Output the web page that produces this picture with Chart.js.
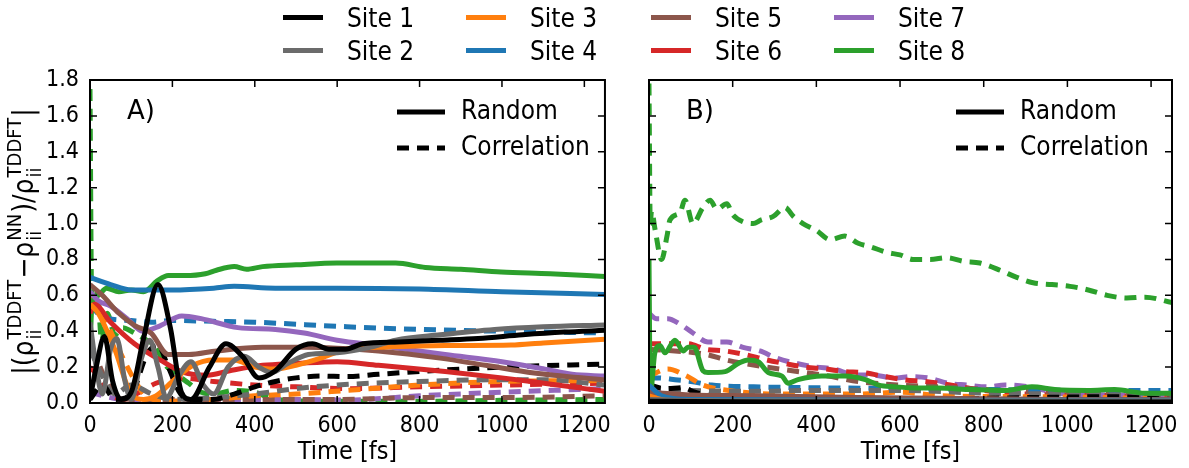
<!DOCTYPE html>
<html>
<head>
<meta charset="utf-8">
<script src="https://cdn.jsdelivr.net/npm/chart.js@4.4.0/dist/chart.umd.min.js"></script>
<style>
  body { margin: 0; background: #fff; }
  #page { position: relative; width: 1189px; height: 468px; overflow: hidden; font-family: "Liberation Sans Narrow", "DejaVu Sans Condensed", "Liberation Sans", sans-serif; }
  #wrapA { position: absolute; left: 0; top: 0; }
  #wrapB { position: absolute; left: 620px; top: 0; }
  #legend { position: absolute; left: 0; top: 0; width: 1189px; height: 70px; }
  .item { position: absolute; height: 30px; line-height: 30px; font-size: 26px; color: #000; white-space: nowrap; }
  .item span.swatch { position: absolute; left: 0; top: 12px; width: 40px; height: 5px; }
  .item span.txt { position: absolute; left: 64px; top: 0; }
</style>
</head>
<body>
<div id="page">
  <div id="wrapA"><canvas id="chartA" width="620" height="468"></canvas></div>
  <div id="wrapB"><canvas id="chartB" width="569" height="468"></canvas></div>
  <div id="legend"></div>
</div>
<script>
var FONT = '"Liberation Sans Narrow", "DejaVu Sans Condensed", "Liberation Sans", sans-serif';

var siteLabels = ['Site 1', 'Site 2', 'Site 3', 'Site 4', 'Site 5', 'Site 6', 'Site 7', 'Site 8'];
var siteColors = ['#000000', '#6b6b6b', '#ff7f0e', '#1f77b4', '#8c564b', '#d62728', '#9467bd', '#2ca02c'];
var xTicks = [0, 200, 400, 600, 800, 1000, 1200];
var yTicks = [0, 0.2, 0.4, 0.6, 0.8, 1.0, 1.2, 1.4, 1.6, 1.8];

// panel A, random (solid)  [time fs, value]
var aRand1 = [[0,0.02],[15,0.2],[35,0.37],[55,0.12],[75,0.02],[100,0.06],[130,0.36],[165,0.66],[195,0.42],[222,0.06],[245,0.02],[290,0.2],[330,0.33],[370,0.26],[410,0.14],[450,0.18],[500,0.3],[540,0.33],[580,0.3],[620,0.3],[662,0.33],[750,0.34],[850,0.35],[942,0.36],[1050,0.38],[1150,0.395],[1250,0.405]];
var aRand2 = [[0,0.45],[15,0.2],[30,0.05],[50,0.3],[65,0.36],[85,0.12],[100,0.02],[125,0.25],[145,0.35],[165,0.2],[185,0.03],[215,0.15],[245,0.23],[275,0.1],[300,0.05],[335,0.2],[375,0.26],[410,0.2],[440,0.17],[480,0.22],[530,0.27],[600,0.28],[680,0.31],[742,0.35],[850,0.38],[982,0.41],[1100,0.425],[1250,0.435]];
var aRand3 = [[0,0.55],[20,0.5],[60,0.3],[100,0.05],[130,0.02],[160,0.04],[200,0.12],[250,0.21],[300,0.24],[350,0.24],[400,0.2],[450,0.19],[500,0.21],[560,0.25],[623,0.3],[700,0.31],[862,0.32],[1022,0.323],[1100,0.335],[1250,0.355]];
var aRand4 = [[0,0.7],[50,0.66],[100,0.63],[150,0.63],[200,0.63],[300,0.64],[350,0.65],[450,0.64],[600,0.64],[800,0.635],[1000,0.62],[1250,0.605]];
var aRand5 = [[0,0.66],[30,0.6],[70,0.5],[110,0.43],[148,0.39],[190,0.27],[240,0.27],[307,0.29],[419,0.31],[520,0.31],[600,0.305],[700,0.29],[850,0.25],[960,0.21],[1078,0.167],[1250,0.128]];
var aRand6 = [[0,0.5],[10,0.55],[50,0.45],[108,0.33],[170,0.24],[227,0.17],[285,0.155],[339,0.18],[419,0.21],[500,0.22],[600,0.23],[700,0.21],[862,0.175],[1000,0.14],[1102,0.11],[1250,0.065]];
var aRand7 = [[0,0.62],[20,0.57],[50,0.54],[90,0.47],[128,0.4],[170,0.43],[223,0.485],[270,0.47],[359,0.42],[450,0.41],[520,0.39],[600,0.35],[700,0.32],[862,0.27],[1000,0.23],[1102,0.19],[1170,0.16],[1250,0.15]];
var aRand8 = [[0,0.3],[5,0.55],[20,0.6],[40,0.64],[70,0.62],[100,0.63],[130,0.62],[163,0.68],[190,0.71],[230,0.71],[280,0.72],[307,0.74],[350,0.76],[380,0.745],[419,0.76],[500,0.77],[599,0.78],[742,0.78],[814,0.755],[900,0.745],[998,0.73],[1117,0.72],[1250,0.705]];

// panel A, correlation (dashed)
var aCorr1 = [[0,0.02],[30,0.1],[60,0.02],[100,0.05],[140,0.28],[165,0.32],[190,0.2],[220,0.05],[250,0.02],[300,0.02],[350,0.05],[400,0.09],[450,0.12],[500,0.14],[560,0.15],[623,0.147],[700,0.16],[862,0.184],[1000,0.2],[1250,0.217]];
var aCorr2 = [[0,0.3],[30,0.15],[60,0.05],[100,0.1],[150,0.05],[200,0.02],[300,0.03],[400,0.05],[500,0.08],[600,0.1],[800,0.12],[1000,0.13],[1100,0.13],[1250,0.1]];
var aCorr3 = [[0,0.6],[20,0.55],[50,0.4],[80,0.25],[110,0.12],[140,0.03],[200,0.01],[300,0.02],[400,0.04],[500,0.05],[623,0.07],[800,0.1],[1000,0.12],[1250,0.125]];
var aCorr4 = [[0,0.55],[30,0.48],[100,0.46],[150,0.45],[200,0.46],[300,0.455],[400,0.45],[623,0.425],[800,0.41],[1000,0.4],[1250,0.39]];
var aCorr5 = [[0,0.3],[15,0.25],[40,0.12],[70,0.04],[100,0.02],[200,0.02],[400,0.02],[600,0.02],[800,0.03],[1000,0.03],[1250,0.04]];
var aCorr6 = [[0,0.2],[20,0.15],[50,0.05],[80,0.02],[120,0.06],[160,0.11],[220,0.14],[300,0.12],[400,0.1],[500,0.09],[623,0.08],[800,0.09],[1000,0.1],[1250,0.11]];
var aCorr7 = [[0,0.06],[50,0.03],[100,0.01],[200,0.01],[300,0.02],[400,0.02],[500,0.02],[623,0.017],[800,0.04],[1000,0.06],[1250,0.08]];
var aCorr8 = [[0,1.75],[4,0.6],[10,0.55],[18,0.62],[28,0.35],[42,0.5],[60,0.38],[80,0.42],[100,0.4],[130,0.36],[160,0.31],[180,0.22],[210,0.16],[240,0.11],[270,0.06],[300,0.05],[350,0.07],[400,0.06],[450,0.02],[600,0.01],[800,0.01],[1000,0.015],[1250,0.02]];

// panel B, random (solid)
var bRand1 = [[0,0.01],[300,0.005],[700,0.005],[1250,0.005]];
var bRand2 = [[0,0.02],[200,0.01],[600,0.01],[1250,0.01]];
var bRand3 = [[0,0.04],[40,0.015],[200,0.01],[700,0.01],[1250,0.01]];
var bRand4 = [[0,0.1],[30,0.04],[100,0.02],[600,0.015],[1250,0.015]];
var bRand5 = [[0,0.06],[100,0.045],[250,0.04],[500,0.03],[1000,0.02],[1250,0.02]];
var bRand6 = [[0,0.03],[200,0.02],[600,0.015],[800,0.02],[1000,0.01],[1250,0.015]];
var bRand7 = [[0,0.07],[60,0.04],[150,0.02],[400,0.015],[800,0.02],[1000,0.015],[1250,0.02]];
var bRand8 = [[0,0.8],[3,0.05],[14,0.28],[26,0.32],[38,0.28],[62,0.35],[82,0.29],[93,0.31],[108,0.31],[129,0.18],[141,0.17],[182,0.175],[213,0.22],[237,0.24],[261,0.23],[285,0.17],[318,0.15],[332,0.11],[356,0.13],[413,0.15],[469,0.15],[517,0.13],[549,0.1],[589,0.09],[620,0.085],[691,0.083],[771,0.075],[851,0.07],[915,0.09],[970,0.075],[1050,0.07],[1113,0.075],[1185,0.055],[1250,0.055]];

// panel B, correlation (dashed)
var bCorr1 = [[0,0.1],[40,0.08],[80,0.085],[110,0.06],[150,0.04],[300,0.02],[600,0.02],[900,0.03],[1100,0.035],[1250,0.02]];
var bCorr2 = [[0,0.08],[100,0.07],[250,0.065],[400,0.07],[600,0.07],[800,0.055],[1000,0.05],[1250,0.04]];
var bCorr3 = [[0,0.15],[45,0.19],[90,0.15],[129,0.1],[213,0.063],[300,0.05],[500,0.05],[600,0.06],[700,0.04],[900,0.035],[1100,0.03],[1250,0.02]];
var bCorr4 = [[0,0.14],[21,0.14],[69,0.128],[100,0.12],[150,0.1],[250,0.09],[400,0.085],[600,0.08],[800,0.075],[1042,0.07],[1250,0.07]];
var bCorr5 = [[0,0.3],[138,0.27],[184,0.24],[280,0.2],[325,0.185],[373,0.17],[429,0.15],[500,0.12],[600,0.1],[700,0.09],[850,0.07],[1000,0.055],[1250,0.04]];
var bCorr6 = [[0,0.33],[93,0.33],[134,0.3],[182,0.29],[230,0.27],[282,0.24],[325,0.22],[373,0.2],[421,0.19],[469,0.175],[509,0.17],[565,0.147],[612,0.128],[660,0.12],[720,0.1],[800,0.07],[900,0.05],[1000,0.045],[1250,0.035]];
var bCorr7 = [[0,0.5],[18,0.47],[45,0.47],[74,0.44],[105,0.39],[141,0.34],[186,0.34],[225,0.31],[265,0.29],[305,0.25],[353,0.22],[401,0.2],[440,0.19],[497,0.156],[528,0.156],[592,0.14],[624,0.147],[667,0.14],[715,0.11],[759,0.1],[807,0.09],[851,0.1],[908,0.09],[995,0.05],[1100,0.045],[1250,0.04]];
var bCorr8 = [[0,1.78],[3,1.0],[6,1.07],[15,0.96],[30,0.8],[43,0.93],[50,1.02],[74,1.06],[86,1.13],[105,1.0],[129,1.09],[146,1.13],[162,1.08],[186,1.11],[200,1.05],[225,1.01],[249,1.0],[268,1.02],[297,1.04],[325,1.09],[345,1.04],[368,1.0],[401,0.96],[433,0.91],[468,0.93],[500,0.89],[530,0.87],[568,0.84],[600,0.825],[631,0.8],[672,0.8],[712,0.81],[751,0.79],[791,0.78],[839,0.74],[879,0.7],[918,0.67],[963,0.66],[1006,0.65],[1050,0.63],[1095,0.6],[1142,0.585],[1185,0.59],[1250,0.56]];

var randomA = [aRand1, aRand2, aRand3, aRand4, aRand5, aRand6, aRand7, aRand8];
var corrA = [aCorr1, aCorr2, aCorr3, aCorr4, aCorr5, aCorr6, aCorr7, aCorr8];
var randomB = [bRand1, bRand2, bRand3, bRand4, bRand5, bRand6, bRand7, bRand8];
var corrB = [bCorr1, bCorr2, bCorr3, bCorr4, bCorr5, bCorr6, bCorr7, bCorr8];

// top legend, 4 columns x 2 rows, filled column by column
var legendCols = [283, 466, 651, 834];
var legendRows = [3, 36];
var legendEl = document.getElementById('legend');
siteLabels.forEach(function (name, i) {
  var div = document.createElement('div');
  div.className = 'item';
  div.style.left = legendCols[Math.floor(i / 2)] + 'px';
  div.style.top = legendRows[i % 2] + 'px';
  div.innerHTML = '<span class="swatch" style="background:' + siteColors[i] + '"></span><span class="txt">' + name + '</span>';
  legendEl.appendChild(div);
});

function buildDatasets(randomSets, corrSets) {
  var sets = [];
  randomSets.forEach(function (pts, i) {
    sets.push({
      label: siteLabels[i] + ' Random',
      data: pts.map(function (p) { return { x: p[0], y: p[1] }; }),
      borderColor: siteColors[i],
      borderWidth: 5,
      pointRadius: 0,
      cubicInterpolationMode: 'monotone',
      fill: false
    });
  });
  corrSets.forEach(function (pts, i) {
    sets.push({
      label: siteLabels[i] + ' Correlation',
      data: pts.map(function (p) { return { x: p[0], y: p[1] }; }),
      borderColor: siteColors[i],
      borderWidth: 5,
      borderDash: [12, 8],
      pointRadius: 0,
      cubicInterpolationMode: 'monotone',
      fill: false
    });
  });
  return sets;
}

// frame, inward ticks, panel letter and the Random / Correlation key
var decorPlugin = {
  id: 'decor',
  afterDraw: function (chart) {
    var ctx = chart.ctx;
    var a = chart.chartArea;
    var xs = chart.scales.x, ys = chart.scales.y;
    var opt = chart.options.plugins.decor;
    ctx.save();
    ctx.strokeStyle = '#000';
    ctx.lineWidth = 2;
    ctx.strokeRect(a.left, a.top, a.right - a.left, a.bottom - a.top);
    ctx.lineWidth = 1.5;
    ctx.beginPath();
    xTicks.forEach(function (t) {
      var px = xs.getPixelForValue(t);
      ctx.moveTo(px, a.bottom); ctx.lineTo(px, a.bottom - 7);
      ctx.moveTo(px, a.top); ctx.lineTo(px, a.top + 7);
    });
    yTicks.forEach(function (t) {
      var py = ys.getPixelForValue(t);
      ctx.moveTo(a.left, py); ctx.lineTo(a.left + 7, py);
      ctx.moveTo(a.right, py); ctx.lineTo(a.right - 7, py);
    });
    ctx.stroke();

    ctx.fillStyle = '#000';
    ctx.font = '26px "DejaVu Sans", sans-serif';
    ctx.textBaseline = 'middle';
    ctx.textAlign = 'left';
    ctx.fillText(opt.letter, a.left + 37, a.top + 32);

    ctx.lineWidth = 5;
    ctx.beginPath();
    ctx.moveTo(a.left + 307, a.top + 32); ctx.lineTo(a.left + 355, a.top + 32);
    ctx.stroke();
    ctx.setLineDash([12, 8]);
    ctx.beginPath();
    ctx.moveTo(a.left + 307, a.top + 68); ctx.lineTo(a.left + 355, a.top + 68);
    ctx.stroke();
    ctx.setLineDash([]);
    ctx.font = '26px ' + FONT;
    ctx.fillText('Random', a.left + 371, a.top + 32);
    ctx.fillText('Correlation', a.left + 371, a.top + 68);

    if (opt.yTitle) drawYTitle(ctx, 24, (a.top + a.bottom) / 2);
    ctx.restore();
  }
};

// |(rho_ii^TDDFT - rho_ii^NN) / rho_ii^TDDFT|, rotated
function drawYTitle(ctx, cx, cy) {
  var parts = [
    { text: '|(\u03c1', sub: 'ii', sup: 'TDDFT' },
    { text: '\u2212\u03c1', sub: 'ii', sup: 'NN' },
    { text: ')/\u03c1', sub: 'ii', sup: 'TDDFT' },
    { text: '|' }
  ];
  var main = '28px ' + FONT, small = '20px ' + FONT;
  var total = 0;
  parts.forEach(function (p) {
    ctx.font = main; p.w = ctx.measureText(p.text).width;
    ctx.font = small;
    p.sw = Math.max(p.sub ? ctx.measureText(p.sub).width : 0, p.sup ? ctx.measureText(p.sup).width : 0);
    total += p.w + p.sw + (p.sw ? 2 : 0);
  });
  ctx.save();
  ctx.translate(cx, cy);
  ctx.rotate(-Math.PI / 2);
  ctx.textBaseline = 'alphabetic';
  ctx.textAlign = 'left';
  var x = -total / 2;
  parts.forEach(function (p) {
    ctx.font = main;
    ctx.fillText(p.text, x, 9);
    x += p.w;
    ctx.font = small;
    if (p.sup) ctx.fillText(p.sup, x + 1, -3);
    if (p.sub) ctx.fillText(p.sub, x + 1, 17);
    x += p.sw + (p.sw ? 2 : 0);
  });
  ctx.restore();
}

function makePanel(canvasId, randomSets, corrSets, letter, showY, pad) {
  var ctx = document.getElementById(canvasId).getContext('2d');
  return new Chart(ctx, {
    type: 'line',
    data: { datasets: buildDatasets(randomSets, corrSets) },
    options: {
      responsive: false,
      animation: false,
      layout: { padding: pad },
      plugins: {
        legend: { display: false },
        tooltip: { enabled: false },
        decor: { letter: letter, yTitle: showY }
      },
      scales: {
        x: {
          type: 'linear',
          min: 0,
          max: 1250,
          grid: { display: false, drawTicks: false },
          border: { display: false },
          ticks: {
            stepSize: 200,
            includeBounds: false,
            maxRotation: 0,
            padding: 9,
            color: '#000',
            font: { family: FONT, size: 23 },
            callback: function (v) { return String(v); }
          },
          title: {
            display: true,
            text: 'Time [fs]',
            color: '#000',
            font: { family: FONT, size: 25 },
            padding: { top: 0, bottom: 1 }
          },
          afterFit: function (s) { s.height = 65; }
        },
        y: {
          type: 'linear',
          min: 0,
          max: 1.8,
          grid: { display: false, drawTicks: false },
          border: { display: false },
          ticks: {
            display: showY,
            stepSize: 0.2,
            padding: 11,
            color: '#000',
            font: { family: FONT, size: 23 },
            callback: function (v) { return v.toFixed(1); }
          },
          afterFit: function (s) { s.width = showY ? 50 : 0; }
        }
      }
    },
    plugins: [decorPlugin]
  });
}

var chartA = makePanel('chartA', randomA, corrA, 'A)', true, { left: 40, top: 80, right: 8, bottom: 0 });
var chartB = makePanel('chartB', randomB, corrB, 'B)', false, { left: 29, top: 80, right: 17, bottom: 0 });
</script>
</body>
</html>
